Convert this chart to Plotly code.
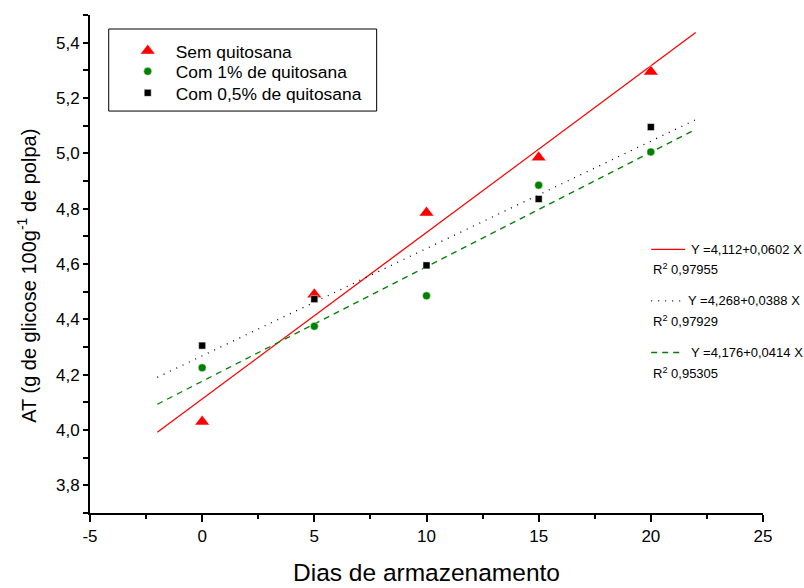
import plotly.graph_objects as go

# ---- data ----
dias = [0, 5, 10, 15, 20]
sem_quitosana = [4.03, 4.49, 4.785, 4.985, 5.295]
com_1 = [4.225, 4.375, 4.485, 4.885, 5.005]
com_05 = [4.305, 4.473, 4.595, 4.835, 5.095]

series_names = ["Sem quitosana", "Com 1% de quitosana", "Com 0,5% de quitosana"]

fit_x = [-2, 22]
fit_intercepts = [4.112, 4.268, 4.176]
fit_slopes = [0.0602, 0.0388, 0.0414]
fit_eq_text = ["Y =4,112+0,0602 X", "Y =4,268+0,0388 X", "Y =4,176+0,0414 X"]
fit_r2_text = ["0,97955", "0,97929", "0,95305"]

x_tickvals = [-5, 0, 5, 10, 15, 20, 25]
x_ticktext = ["-5", "0", "5", "10", "15", "20", "25"]
y_tickvals = [3.8, 4.0, 4.2, 4.4, 4.6, 4.8, 5.0, 5.2, 5.4]
y_ticktext = ["3,8", "4,0", "4,2", "4,4", "4,6", "4,8", "5,0", "5,2", "5,4"]

FONT = "Liberation Sans, Arial, sans-serif"

# plot area in pixels (for paper-coordinate placement of legend / fit key)
L, R, T, B = 90.3, 762.7, 15.0, 512.7
W, H = 804, 588


def px_x(p):
    return (p - L) / (R - L)


def px_y(p):
    return (B - p) / (B - T)


fig = go.Figure()

line_styles = [
    dict(color="#ff0000", width=1.3, dash="solid"),
    dict(color="#000000", width=1.3, dash="1px,6px"),
    dict(color="#008000", width=1.3, dash="6px,5px"),
]

for b0, b1, st in zip(fit_intercepts, fit_slopes, line_styles):
    fig.add_trace(go.Scatter(
        x=fit_x, y=[b0 + b1 * xx for xx in fit_x], mode="lines",
        line=st, showlegend=False, hoverinfo="skip"))

fig.add_trace(go.Scatter(
    x=dias, y=sem_quitosana, mode="markers", name=series_names[0], legend="legend",
    marker=dict(symbol="triangle-up", size=13, color="#ff0000",
                line=dict(color="white", width=0.5))))
fig.add_trace(go.Scatter(
    x=dias, y=com_1, mode="markers", name=series_names[1], legend="legend2",
    marker=dict(symbol="circle", size=8, color="#008000",
                line=dict(color="white", width=0.5))))
fig.add_trace(go.Scatter(
    x=dias, y=com_05, mode="markers", name=series_names[2], legend="legend3",
    marker=dict(symbol="square", size=7, color="#000000",
                line=dict(color="white", width=0.5))))

# legend frame
shapes = [dict(type="rect", xref="paper", yref="paper",
               x0=px_x(109), x1=px_x(376.7), y0=px_y(29), y1=px_y(111),
               line=dict(color="black", width=1), fillcolor="rgba(0,0,0,0)")]
annotations = []

# fit key on the right
key_rows = [249.3, 300.8, 352.3]
key_line_end = [685, 682, 681]
key_text_x = [689, 686, 689]
for i, yrow in enumerate(key_rows):
    st = line_styles[i]
    shapes.append(dict(type="line", xref="paper", yref="paper",
                       x0=px_x(651), x1=px_x(key_line_end[i]),
                       y0=px_y(yrow), y1=px_y(yrow),
                       line=dict(color=st["color"], width=st["width"], dash=st["dash"])))
    annotations.append(dict(xref="paper", yref="paper", x=px_x(key_text_x[i]), y=px_y(yrow),
                            xanchor="left", yanchor="middle", showarrow=False,
                            text=fit_eq_text[i], font=dict(family=FONT, size=13, color="black")))
    annotations.append(dict(xref="paper", yref="paper", x=px_x(651), y=px_y(yrow + 20),
                            xanchor="left", yanchor="middle", showarrow=False,
                            text="R<sup>2</sup> " + fit_r2_text[i],
                            font=dict(family=FONT, size=13, color="black")))

# y-axis title as rotated annotation
annotations.append(dict(xref="paper", yref="paper", x=px_x(27), y=px_y(276),
                        xanchor="center", yanchor="middle", showarrow=False, textangle=-90,
                        text="AT (g de glicose 100g<sup>-1</sup> de polpa)",
                        font=dict(family=FONT, size=20, color="black")))

legend_rows = [51.0, 71.5, 93.0]
legend_common = dict(xanchor="left", yanchor="middle", borderwidth=0,
                     bgcolor="rgba(0,0,0,0)", font=dict(family=FONT, size=17.4),
                     itemwidth=46, indentation=11)

fig.update_layout(
    width=W, height=H,
    margin=dict(l=L, r=W - R, t=T, b=H - B, autoexpand=False),
    paper_bgcolor="white", plot_bgcolor="white",
    font=dict(family=FONT, size=17, color="black"),
    showlegend=True,
    legend=dict(x=px_x(109), y=px_y(legend_rows[0]), **legend_common),
    legend2=dict(x=px_x(109), y=px_y(legend_rows[1]), **legend_common),
    legend3=dict(x=px_x(109), y=px_y(legend_rows[2]), **legend_common),
    shapes=shapes, annotations=annotations,
)

fig.update_xaxes(
    range=[-5, 25], showline=True, linecolor="black", linewidth=2, automargin=False,
    showgrid=False, zeroline=False, ticks="outside", ticklen=7, tickwidth=1.5,
    tickcolor="black", tickvals=x_tickvals, ticktext=x_ticktext,
    tickfont=dict(family=FONT, size=17),
    minor=dict(ticks="outside", dtick=2.5, tick0=0, ticklen=4, tickwidth=1.5, tickcolor="black", showgrid=False),
    title=dict(text="Dias de armazenamento", font=dict(family=FONT, size=24.5), standoff=18),
)
fig.update_yaxes(
    range=[3.7, 5.5], showline=True, linecolor="black", linewidth=2, automargin=False,
    showgrid=False, zeroline=False, ticks="outside", ticklen=5, tickwidth=1.5,
    tickcolor="black", tickvals=y_tickvals, ticktext=y_ticktext,
    tickfont=dict(family=FONT, size=17),
    minor=dict(ticks="outside", dtick=0.1, tick0=3.7, ticklen=5, tickwidth=1.5, tickcolor="black", showgrid=False),
)

fig.write_html("out.html")
